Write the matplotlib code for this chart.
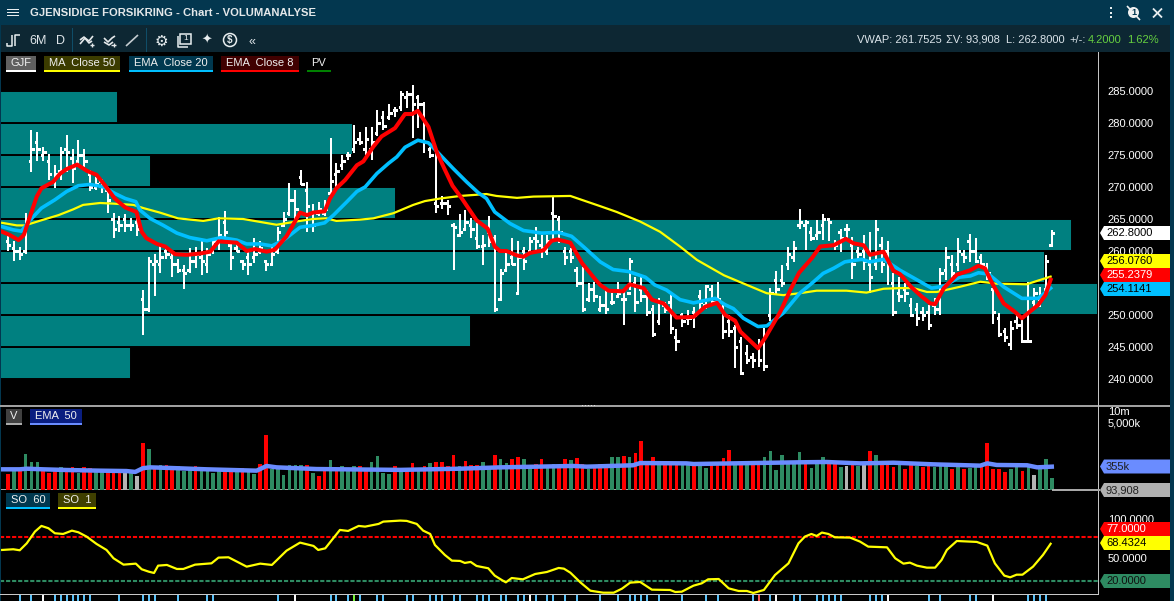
# Gjensidige Forsikring - volumanalyse chart (price + volume profile, volume, stochastic)
import matplotlib
matplotlib.use("Agg")
import matplotlib.pyplot as plt
from matplotlib.patches import Rectangle, Polygon, Circle

plt.rcParams['font.family'] = ['Liberation Sans', 'DejaVu Sans']

# ---- data ----
highs = [262.3,261.5,260.7,265.9,278.9,278.6,276.2,275.1,273.4,276.2,
         278.1,275.9,277.4,276,272.7,271.6,271.2,270,265.9,265.4,
         265.8,265.2,265.1,253.9,259,259.6,260.9,260.8,259.9,258.8,
         257.8,260.4,260.7,261.5,260.4,262,265.3,266.2,261.5,261.5,
         258.5,259.9,262,261.5,258.6,260.7,263.8,266.1,270.6,269.5,
         272.7,270.8,267.4,267.7,267.9,277.6,273.7,275,275.5,279.7,
         278.6,279.4,279.4,282.1,281.8,282.9,282.5,285,285,286,
         284.4,283.3,276.3,275.8,268.6,268,264.3,265.8,266.4,265.1,
         264.3,262.5,265.4,262.5,257.2,259.9,262,261.5,260.7,262.2,
         263.8,262.5,262.5,268.5,265.4,260.7,260.4,257.5,257.5,255,
         255.2,252.9,253.9,253.4,255.2,253.6,258.9,256,256,253.9,
         251.6,252.6,252.1,253.4,247.8,250.3,250.8,251.3,253.9,254.7,
         254.7,255.2,251.6,250,248.4,246.6,245.3,244,246.3,247.9,
         254.2,256.8,257.8,260.7,261.5,266.5,264.9,263.8,264.8,265.8,
         265.1,261.7,263.5,264.2,262.2,260.7,262.5,263,264.8,262.2,
         261.5,256.5,256,255,252.6,251.8,251.3,251.6,252.6,257.3,
         260.7,259.4,262,260.2,262.6,262,259.6,258.1,254.2,250.3,
         248,249,250.5,249.2,255.2,254.2,254.4,259.4,263.3]
lows = [260,258.5,258.6,259.6,272.4,274,274,271.1,269.8,271.1,
        272.4,270.7,273.4,273.2,269.4,269.5,269,265.9,262.1,263,
        263,263.2,262.3,246.8,250.5,252.9,256.6,258.8,255.9,256.5,
        254,256.6,257.4,256.2,256.6,259.6,260.2,262.2,257,259.9,
        257,256.2,258.1,259.5,256.8,257.8,259.6,263.8,265.4,264.8,
        270.3,263,263,265.4,265.4,268.7,269.5,272.7,274.2,275.3,
        276.6,275,274.2,277.9,278.9,280.5,281,281.8,282.3,277.6,
        279.2,275.3,274.5,266,266.5,265.6,257,262.2,263.3,262,
        260.3,257.8,260.7,250.5,252.3,256.8,257.8,253.3,257,259.6,
        260.2,258.9,259.4,261.7,261.2,257.8,258.1,254.4,250.5,252.1,
        252.1,250.5,250.1,251.6,252.9,248.4,253.9,250.5,252.1,249.8,
        246.6,248.4,250.3,247,244.3,248.1,248.4,247.9,250.3,251,
        251.8,251.6,246.3,246.5,241.7,240.6,242.4,241.7,241.9,241.3,
        249.1,253.1,254.4,257,258.3,263.4,260.1,261.5,261.7,261.7,
        261.5,260.2,259.9,262,255.7,258.6,257,253.4,257,256.5,
        254.7,249.8,252.1,252.1,249.7,248.3,249,247.7,250,250,
        255.5,255,256.8,258.1,258.3,258.1,257.3,255.5,248.6,246.5,
        245.8,244.5,247.8,245.7,245.8,251,251.3,253.6,260.6]
opens = [261.5,260.5,260,260,274,277,275,274,271,272.5,
         276,274.5,274,275,272,270,271,269.5,265,264.5,
         265,264,264.5,252.5,251,258,258,260,259,258,
         257,257,258.5,259,258,260,262,264.5,261,260.5,
         258.5,259,259,260,258.5,258,260,264,266,268,
         271.5,269.5,266,266,266,269,272,273.5,275,276,
         277.5,276,276,278.5,281,281,282,282.5,284,284.5,
         284,283,276,267.5,267.5,267.5,264,262.5,263.5,264,
         262,260.8,263,262,252.5,257,259,253.5,260,260,
         262,261,260,266,265,260,260,257,255,252.5,
         254,251,251.5,252,253,252.5,253.5,255,254,253,
         251,249,251.5,252,246.5,250,249.5,250.5,253,251.5,
         254,252,251,249,248,246,244,243.5,245,246,
         250,255.5,255.5,258,259,264,264,263,262.5,264,
         265,261,263,263.5,261,260,260,258,258,261,
         260,255,253.5,254,251.5,251,250.5,250.5,251.5,251,
         257,258,258,259.5,261.5,260,259,257.5,254,249.5,
         247.5,245.5,249,248.5,246,252,252.5,254,261]
closes = [261,260,259.5,264.5,276,276,275.5,272,272,275.5,
          275.5,273,275,274,270,270.5,270,268,263.5,264,
          264,264,263.5,251,258.5,258.5,259,259.5,258,257,
          256.5,258.5,259.5,258.5,259.5,261.5,262.5,263,259,260,
          258,258,259.5,260.5,258,259.5,263,265,268,266.5,
          270.5,267,264,266.5,266.5,271,272.5,274,275,277,
          277,277.5,277,280,279.5,281.5,282,284.5,284.5,283,
          283,277,275,267,267.5,267,263.8,263,264.5,263.5,
          260.8,261,261.5,251,256.5,258,258,259,258.5,261.5,
          261.5,260.5,261.5,265.5,263,259,259,255,251,254,
          253,251.5,251,252,253.5,252.5,258.5,252,253,250.5,
          247,252,251,248,246,249,249.5,250,252,254.5,
          252,252.5,247.5,247.5,245,241,243,243,243,242,
          253.5,254,255,259.5,260.5,264.5,264.5,262,263,265,
          264.5,261,262,263.5,258,259.5,258.5,256,263.5,258,
          258,250.5,253,253.5,250,249.5,250,248.5,251,256.5,
          259,256.5,260,259,260,258.5,258,256.5,250.5,247,
          246.5,248,248.5,246,246,253.5,253,258.5,262.8]

ema8_x = [-1,0.3,1.8,2.7,3.75,4.9,5.7,7.7,8.9,10,11.8,13.5,15.1,16.5,18.2,20,21.9,22.8,23.6,25.4,
          26.8,28.5,30.5,32.7,34.5,35.9,39,40.7,42.1,44.1,45.5,47.5,49.8,51,52,54,54.9,56,57.5,59.5,
          60.6,62.3,63.7,66,67.7,68.9,69.9,71.7,73.1,74.5,75.8,77.4,79.9,81.8,83,83.9,85,86.8,87.9,89,
          91.3,92.7,93.7,95.9,97.9,100.2,101,102.4,104.9,106,108.4,109.8,111.8,114,116.9,118.9,120.9,122.3,124,124.9,
          127.9,129.1,131.7,133.4,134.9,137.1,138.5,140.8,142.9,144.2,145.9,147,149.3,151,152.1,154,155.8,157.3,158.1,159.6,
          161.8,164.1,165.5,166.6,167.8,169.8,171.7,172.9,175.7,176.9,177.8]
ema8_y = [263,262.5,261.7,262.5,265.4,268.5,269.8,270.8,272.1,272.8,273.5,272.5,271.9,270.3,268.2,266.8,266.1,263,262,261.1,
          260.7,259.5,259.4,259.6,259.9,261.5,261.3,260,260.3,259.9,260.2,262.3,266,265.6,266,266.2,268.2,269.8,271.1,273.4,
          274,276.3,277.9,279.2,281.4,281.4,281.9,279.4,275.5,272.7,270.2,268.2,264.8,263.5,260.7,260,260,259.3,259.1,259.7,
          260.1,261.6,261.8,261.3,258.1,255.5,254.7,253.8,253.7,254.8,254.2,252.4,251.8,249.6,249.7,251.3,251.9,250,249.1,247.4,
          244.8,246.4,250.5,253.9,256.6,258.9,260.7,260.9,261.9,261.2,260.9,259.4,259.9,256.9,256.4,254.4,252.9,251.8,251.7,254.2,
          256.3,257,257.7,257.3,255,251.8,250.5,249.5,251.6,253.1,255.5]

ema20_x = [-1,0.9,2.3,3.75,5.7,8,10,12,14,16.3,18.2,20,21.8,22.5,24.2,26.5,28.8,31,33.9,36.4,
           39,40.7,43,45,47,49.8,52,54,55.5,57.8,59.5,60.9,62.9,64.9,66.3,67.7,69.9,71.7,73.4,75.9,
           78.2,80.2,81.6,83,85.6,87.9,91,93.9,96.1,98.1,101,103.2,105.8,108.7,110.3,112.3,114.6,116.9,120.6,122.3,
           123.7,125.4,127.9,129.4,132.2,135,137.4,139,140.8,142.7,145.6,147,149.3,152.1,155,157.5,159.6,162.2,164.1,165.5,
           167.2,169.8,172.9,175.7,177.8]
ema20_y = [263.8,263.3,263.1,264.8,266.7,268,269.3,270.2,270.4,270,269,268.2,267.7,266.4,265.1,264,262.8,262.1,261.6,262.1,
           261.7,261.1,261.1,260.8,261.7,263.7,264,264.4,265.6,267.7,269.3,270,272.1,273.7,274.7,276.2,277.3,276.9,275.3,272.9,
           270.8,269.1,268.2,266.1,264.3,263.2,262.8,262.9,262.3,260.7,258.3,257.1,256.8,255.9,254.7,253.9,252.4,251.9,252.6,251.6,
           251,249.5,248.2,248.3,250.3,253.4,255.2,256.5,257.3,258.3,258.7,258.3,258.7,257,255.5,254.2,254.5,255.9,256.1,256.6,
           256.4,254.4,252.6,252.6,254.2]

ma50_x = [-1,1.5,2.9,5.7,8.6,11.1,12.8,15.7,18,21.4,23.1,25.9,29,33.3,35.9,40.1,45.8,49.8,52,54.3,
          56,60,62.3,65.7,69.1,71.1,73.7,77.1,81.6,83.3,86.8,89.6,95.9,101,103.8,107.8,111.2,114.6,117.5,122.1,
          126,129.4,132.2,135,137.9,143,146.4,149.3,152.1,154.4,156.7,158.4,162.3,165.8,168.6,173.7,175.4,177.8]
ma50_y = [264.4,264,264,264.8,265.6,266.5,267.2,267.5,267.4,267.2,266.7,266,265.1,264.7,265.1,265,264.1,264.7,265,265.1,
          264.7,264.9,265.1,265.9,267.2,267.8,268.2,268.6,268.9,268.6,268.3,268.5,268.6,267,266.1,264.6,263,260.7,258.6,256.2,
          254.7,253.4,253.1,253.4,253.8,253.8,253.5,254.1,254.2,254.2,253.6,253.6,254.4,255.2,254.9,254.8,255.3,256]

# volume profile: lower edge of each price zone and its length
zone_low = [240,245,250,255,260,265,270,275,280]
zone_len = [131,471,1098,1045,1072,396,151,353,118]

# volume in thousands, d = down (red), u = up (green), n = unchanged (grey)
volume = [137,197,175,660,361,361,236,155,175,252,
          197,252,155,252,236,164,186,222,222,175,
          197,175,115,1350,890,266,300,300,252,283,
          175,209,266,186,186,146,236,186,197,175,
          236,175,137,320,2185,222,209,122,300,300,
          300,300,155,108,186,430,209,283,175,283,
          266,222,361,585,155,137,266,
          209,175,340,209,266,340,383,361,283,620,
          283,406,300,300,383,252,620,458,340,458,
          550,458,252,320,458,266,320,266,458,430,
          487,320,209,266,320,252,550,550,585,550,
          700,1530,383,518,383,320,383,383,300,320,
          340,383,236,383,300,487,840,383,383,383,
          383,383,518,790,197,620,383,383,745,
          406,236,383,550,406,340,252,283,300,266,
          361,790,620,383,340,252,300,209,361,283,
          252,266,252,300,266,222,266,222,236,320,
          300,1350,209,209,164,222,266,186,283,129,
          222,458,94]
vol_dir = [
    'd','u','d','u','u','u','d','d','d','u',
    'd','d','u','d','d','u','u','d','d','d',
    'n','u','n','d','u','d','u','d','d','u',
    'u','u','d','u','u','u','u','d','d','u',
    'd','u','u','d','d','u','u','u','u','u',
    'u','d','u','d','d','u','d','u','u','u',
    'd','d','u','u','u','u','d',
    'u','d','d','u','d','u','d','d','d','d',
    'u','d','d','d','u','u','d','u','u','d',
    'd','u','u','d','d','u','u','d','d','u',
    'd','d','u','d','d','d','u','u','d','u',
    'd','d','d','d','u','d','d','d','u','u',
    'd','u','u','d','d','d','d','u','d','u',
    'd','d','u','u','u','u','u','u','u',
    'd','u','u','u','d','d','u','n','d','u',
    'n','d','u','d','d','d','u','d','d','u',
    'd','d','u','u','u','d','u','d','u','u',
    'd','d','d','d','d','u','u','d','u','n',
    'u','u','u',
]
vol_colors = {'d': '#ff0000', 'u': '#2e8b62', 'n': '#b4b4b4'}

vol_ema_x = [-1,2,3.2,6,10,15.7,20.2,21.7,23,24.2,27.6,33.9,42.4,44.1,45.8,52.6,66.9,77.1,83.9,96.4,
             98.7,106.6,107.8,115.7,116.9,123.7,135,139.6,145.3,151,157.8,165.8,167,168.6,173.8,175.5,178]
vol_ema_y = [295,295,306,295,283,272,266,252,315,332,320,295,272,361,332,300,285,306,332,361,
             346,376,430,422,406,422,450,458,422,439,398,368,422,383,376,332,346]

so_x = [-1,0.9,2,3.2,4.6,5.7,6.9,8,9.4,10.9,12,13.4,15.1,16.8,18,19.7,21.8,22.8,24,24.9,
        25.6,27.1,28.8,29.9,31.9,34.7,35.9,37.6,40.7,43,45,47.5,49.8,52.1,52.9,54.1,56.6,58,59.8,60.9,
        63.2,64,66.9,68,69.7,70.8,72,72.8,74.5,75.7,77.1,77.9,78.9,79.9,81.9,83,84.2,84.9,85.9,87.8,
        89.9,91.9,93.9,94.8,95.9,97.6,99.3,101.5,103.3,104.7,106.1,107.8,109.8,112.9,113.8,114.9,116.9,118.3,119.4,121.2,
        122.9,124.6,126,127.1,128.9,130.8,133.1,134.8,135.9,137,137.9,138.8,139.9,141,143.6,145.3,146.7,149.9,151.3,152.7,
        153.8,155,156.7,158.1,159.2,160.1,161.8,165.2,167,168.3,169.9,170.9,172,173,174.8,176.5,177.8]
so_y = [60.4,61.3,60,69,84.2,91.5,88.5,82,81.1,85.4,83.3,77.7,68.2,60.4,49.6,41.4,42.7,35.4,32.3,30.6,
        40.1,41,35.8,35.8,41.4,43.1,50.5,50.9,38.8,42.7,41,59.5,69.9,65.6,60.4,62.5,86.3,85,91.5,90.6,
        94.1,97.1,98.4,98,94.1,85.4,81.1,66.9,53.9,46.6,46.2,43.6,44.9,39.7,36.7,27.2,21.5,18.5,24.1,22.4,
        29.3,31.9,37.1,36.2,31,18.5,7.7,5.1,5.1,10.3,18.1,19,9,8.6,6,6.4,14.2,17.2,22.4,22.8,
        10.7,7.3,7.3,4.7,8.6,28,43.1,69,77.7,81.1,78.5,82.9,81.1,76.8,76.4,71.2,64.7,63.8,49.6,42.7,
        44,40.1,37.5,37.5,47.4,60.4,72,70.8,66,43,27.2,25,28.4,28.4,38.8,54,68.4]

# signal marks under the lower panel, as bar numbers
rug_blue = [2,4,8,9,10,11,12,13,14,19,23,24,25,29,34,35,46,55,56,58,60,63,64,
            68,69,72,73,74,76,77,80,81,82,84,85,87,88,90,92,93,95,97,101,104,106,107,108,109,111,115,119,121,127,130,134,
            135,138,139,140,141,142,147,148,149,157,159,164,165,174,175,176,177]
rug_white = [6,49,89,131,150,168]
rug_green = [59]
rug_red = [128]

# 255.0000 sits behind the price tags in the original, so it is not listed
price_ticks = [240,245,250,260,265,270,275,280,285]

# ---- figure in pixels ----
W, H = 1174, 601
fig = plt.figure(figsize=(W / 100, H / 100), dpi=100, facecolor='black')
bar_left, bar_right = -8 / 5.864, 1090 / 5.864


def panel(top, bottom, right=1098):
    a = fig.add_axes([0, 1 - bottom / H, right / W, (bottom - top) / H], facecolor='black')
    a.set_xlim(bar_left, bar_right)
    a.set_xticks([])
    for s in a.spines.values():
        s.set_visible(False)
    return a


# ---- price panel ----
ax = panel(52, 405)
ax.set_ylim(235.94, 291.09)
zones = ax.twiny()
zones.set_xlim(0, 1098)
zones.set_xticks([])
for s in zones.spines.values():
    s.set_visible(False)
zones.barh(zone_low, zone_len, height=5, align='edge', color='#008080',
           edgecolor='black', linewidth=1.4, zorder=1)
ax.set_zorder(zones.get_zorder() + 1)
ax.patch.set_visible(False)
zones.patch.set_facecolor('black')

n = list(range(len(highs)))
ax.vlines(n, lows, highs, color='white', linewidth=1.3, zorder=3, antialiased=False)
ax.hlines(opens, [i - 0.4 for i in n], n, color='white', linewidth=0.9, zorder=3, antialiased=False)
ax.hlines(closes, n, [i + 0.4 for i in n], color='white', linewidth=0.9, zorder=3, antialiased=False)
ax.plot(ma50_x, ma50_y, color='#ffff00', linewidth=1.6, zorder=4)
ax.plot(ema20_x, ema20_y, color='#00bfff', linewidth=2.6, zorder=5)
ax.plot(ema8_x, ema8_y, color='#ff0000', linewidth=2.9, zorder=6)

ax.yaxis.tick_right()
ax.set_yticks(price_ticks)
ax.set_yticklabels(['%.4f' % p for p in price_ticks], color='white', fontsize=8)
ax.tick_params(axis='y', length=0, pad=7)

# ---- volume panel ----
ax_v = panel(406, 490)
ax_v.set_yscale('log')
ax_v.set_ylim(85, 13300)
ax_v.bar(range(len(volume)), volume, width=0.62, bottom=85,
         color=[vol_colors[d] for d in vol_dir], zorder=2)
ax_v.plot(vol_ema_x, vol_ema_y, color='#6a8cff', linewidth=3.2, zorder=3)
ax_v.yaxis.tick_right()
ax_v.set_yticks([5000, 10000])
ax_v.set_yticklabels(['5,000k', '10m'], color='white', fontsize=8)
ax_v.minorticks_off()
ax_v.tick_params(axis='y', length=0, pad=7)
ax_v.axhline(85, color='#a8a8a8', linewidth=1.4, zorder=1, clip_on=False)

# ---- stochastic panel ----
ax_s = panel(490, 594)
ax_s.set_ylim(3.4, 138)
ax_s.axhline(77, color='#ff0000', linewidth=1.5, linestyle=(0, (2.0, 0.9)))
ax_s.axhline(20, color='#2e8b62', linewidth=1.5, linestyle=(0, (2.0, 0.9)))
ax_s.plot(so_x, so_y, color='#ffff00', linewidth=1.6, zorder=3)
ax_s.yaxis.tick_right()
ax_s.set_yticks([50, 100])
ax_s.set_yticklabels(['50.0000', '100.0000'], color='white', fontsize=8)
ax_s.tick_params(axis='y', length=0, pad=7)

# ---- signal marks ----
ax_r = panel(595, 601)
ax_r.set_ylim(0, 1)
ax_r.set_yticks([])
ax_r.vlines(rug_blue, 0, 1, color='#5fc8ff', linewidth=1.4)
ax_r.vlines(rug_white, 0, 1, color='white', linewidth=1.4)
ax_r.vlines(rug_green, 0, 1, color='#7cfc3c', linewidth=1.4)
ax_r.vlines(rug_red, 0, 1, color='#ff5a5a', linewidth=1.4)

# ---- window chrome, drawn in pixel coordinates ----
ui = fig.add_axes([0, 0, 1, 1], facecolor='none', zorder=20)
ui.set_xlim(0, W)
ui.set_ylim(H, 0)
ui.axis('off')


def rect(x0, y0, x1, y1, color, z=1):
    ui.add_patch(Rectangle((x0, y0), x1 - x0, y1 - y0, facecolor=color, edgecolor='none', zorder=z))


def seg(xs, ys, color='#dfe6ea', lw=1.2, z=3):
    ui.plot(xs, ys, color=color, linewidth=lw, zorder=z, solid_capstyle='butt')


rect(0, 0, W, 25, '#03374f')
rect(0, 25, W, 52, '#0d2733')
rect(1170, 0, W, H, '#03374f')
rect(0, 0, 1, H, '#03374f')
rect(0, 405, 1170, 407, '#a0a0a0')
rect(1098, 52, 1099, 595, '#c4c4c4')
rect(0, 594, 1099, 595, '#c8c8c8')
rect(1052, 489.4, 1100, 490.6, '#a8a8a8')
for gx in (582, 585, 588, 591, 594):
    rect(gx, 404.5, gx + 1, 405.5, '#e0e0e0', 2)

# title bar
for hy in (9.5, 12.5, 15.5):
    rect(7, hy - 0.7, 19, hy + 0.7, '#e8eef0', 2)
ui.text(30, 12.7, 'GJENSIDIGE FORSIKRING - Chart - VOLUMANALYSE', color='#e4e8ea',
        fontsize=8.15, fontweight='bold', va='center', ha='left', zorder=3)
for dy in (8, 12.5, 17):
    rect(1109.5, dy - 1, 1111.5, dy + 1, '#e8eef0', 3)
ui.add_patch(Circle((1133.5, 12.5), 5.5, facecolor='#f0f0f0', edgecolor='none', zorder=3))
ui.text(1134, 12.7, '1', color='#03374f', fontsize=6.5, fontweight='bold', ha='center', va='center', zorder=4)
seg([1127, 1140], [6, 20], '#f0f0f0', 1.2)
seg([1153, 1162], [8.5, 17.5], '#e8eef0', 1.3)
seg([1153, 1162], [17.5, 8.5], '#e8eef0', 1.3)

# toolbar
seg([12, 12, 7, 7], [35, 46, 46, 43], '#e8eef0', 1.1)
seg([15, 15, 20], [46, 35, 35], '#e8eef0', 1.1)
ui.text(29, 40.5, '6M', color='#dfe6ea', fontsize=9, va='center', zorder=3)
ui.text(56, 40.5, 'D', color='#dfe6ea', fontsize=9, va='center', zorder=3)
rect(71.5, 28, 72.5, 52, '#0f4d68', 2)
rect(146, 28, 147, 52, '#0f4d68', 2)
seg([80, 85, 89, 93], [44, 38, 41, 36], '#e4e8ea', 1.2)
seg([80, 84, 89, 92], [40, 37, 43, 41], '#e4e8ea', 1.2)
seg([90, 94], [45, 45], '#e4e8ea', 1)
seg([92, 92], [43, 47], '#e4e8ea', 1)
seg([104, 108, 112, 115], [38, 42, 38, 36], '#e4e8ea', 1.2)
seg([104, 109, 113], [42, 45, 42], '#e4e8ea', 1.2)
seg([111, 116], [45, 45], '#e4e8ea', 1)
seg([113.5, 113.5], [43, 47], '#e4e8ea', 1)
seg([126, 138], [46, 35], '#c4ccd0', 1.2)
ui.text(161, 41, '\u2699', color='#e8eef0', fontsize=11, ha='center', va='center', zorder=3,
        family='DejaVu Sans')
ui.add_patch(Rectangle((180, 34), 11, 10, facecolor='none', edgecolor='#e8eef0', linewidth=1.1, zorder=3))
seg([177.5, 177.5, 188], [36, 47, 47], '#e8eef0', 1.1)
ui.text(185.5, 39, '1', color='#e8eef0', fontsize=6, ha='center', va='center', zorder=4)
ui.text(207, 40, '\u2726', color='#e8eef0', fontsize=9, ha='center', va='center', zorder=3,
        family='DejaVu Sans')
ui.add_patch(Circle((230, 40), 6.5, facecolor='none', edgecolor='#e8eef0', linewidth=1.1, zorder=3))
ui.text(230, 40.5, '$', color='#e8eef0', fontsize=7, fontweight='bold', ha='center', va='center', zorder=4)
ui.text(252, 42, '\u00ab', color='#dfe6ea', fontsize=9, ha='center', va='center', zorder=3)

# figures at the right of the toolbar
status = [(857, 'VWAP: 261.7525', '#dbe4ea'), (946, '\u03a3V: 93,908', '#dbe4ea'),
          (1006, 'L: 262.8000', '#dbe4ea'), (1069, '+/-:', '#dbe4ea'),
          (1088, '4.2000', '#66d040'), (1127, '1.62%', '#66d040')]
for sx, st, sc in status:
    ui.text(sx, 40, st, color=sc, fontsize=8, va='center', ha='left', zorder=3)


def chip(x0, x1, y0, label, bg, line, tc='#f0f0f0'):
    if bg:
        rect(x0, y0, x1, y0 + 14, bg, 2)
    rect(x0, y0 + 14, x1, y0 + 16, line, 3)
    ui.text((x0 + x1) / 2, y0 + 7.2, label, color=tc, fontsize=8, ha='center', va='center', zorder=4)


chip(6, 36, 56, 'GJF', '#606060', '#ffffff')
chip(44, 120, 56, 'MA  Close 50', '#3c3c00', '#ffff00')
chip(129, 213, 56, 'EMA  Close 20', '#00384f', '#00bfff')
chip(221, 299, 56, 'EMA  Close 8', '#400000', '#ff0000')
chip(307, 331, 56, 'PV', None, '#008000')
chip(6, 22, 409, 'V', '#404040', '#aaaaaa')
chip(30, 82, 409, 'EMA  50', '#0a1e80', '#6a8cff')
chip(6, 50, 493, 'SO  60', '#00384f', '#00bfff')
chip(58, 96, 493, 'SO  1', '#3f3f00', '#ffff00')


def tag(y, label, bg, tc):
    ui.add_patch(Polygon([(1100, y), (1104, y - 7), (1170, y - 7), (1170, y + 7), (1104, y + 7)],
                         closed=True, facecolor=bg, edgecolor='none', zorder=5))
    ui.text(1106, y + 0.2, label, color=tc, fontsize=8, va='center', ha='left', zorder=6)


tag(233, '262.8000', '#ffffff', '#000000')
tag(261, '256.0760', '#ffff00', '#000000')
tag(275, '255.2379', '#ff0000', '#ffffff')
tag(289, '254.1141', '#00bfff', '#000000')
tag(466.5, '355k', '#6a8cff', '#202020')
tag(490, '93,908', '#b0b0b0', '#202020')
tag(529, '77.0000', '#ff0000', '#ffffff')
tag(543, '68.4324', '#ffff00', '#000000')
tag(581, '20.0000', '#2e8b62', '#101010')

fig.savefig('out.png', dpi=100, facecolor='black')
